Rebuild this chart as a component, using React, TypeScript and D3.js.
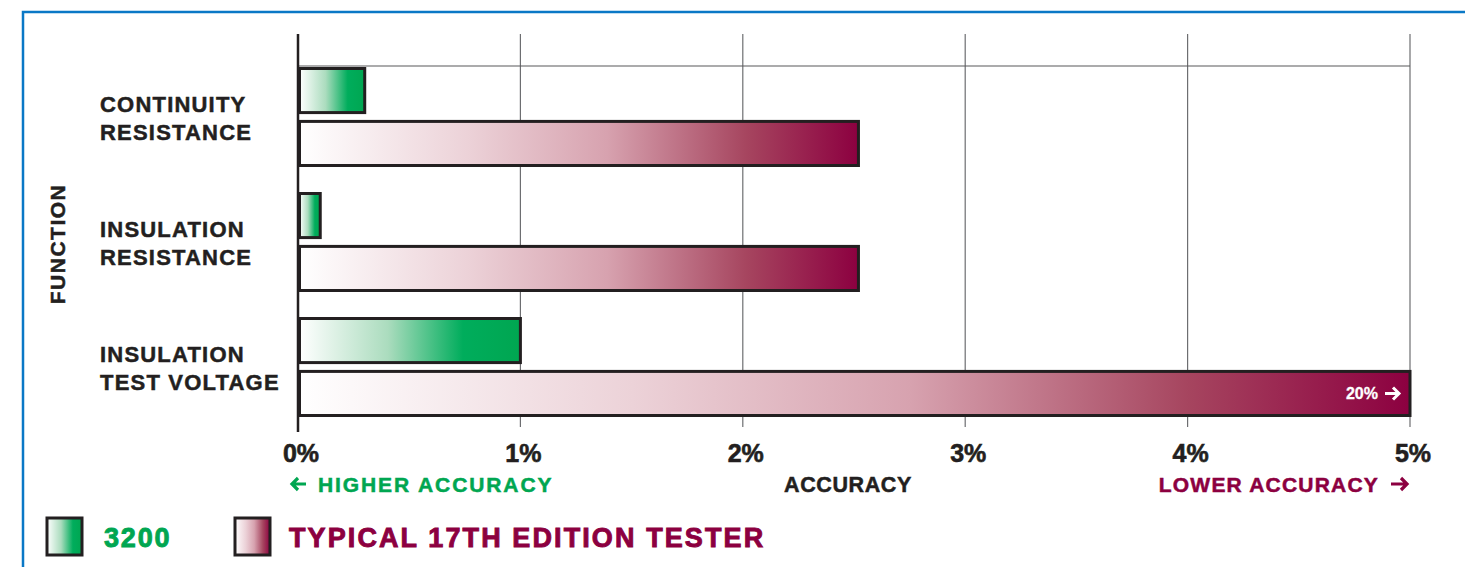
import React from 'react';
import * as d3 from 'd3';

// Chart data
const categories: string[][] = [
  ['CONTINUITY', 'RESISTANCE'],
  ['INSULATION', 'RESISTANCE'],
  ['INSULATION', 'TEST VOLTAGE'],
];
const series3200: number[] = [0.3, 0.1, 1];
const seriesTypical: number[] = [2.52, 2.52, 20];
const tickValues: number[] = [0, 1, 2, 3, 4, 5];
const seriesNames: string[] = ['3200', 'TYPICAL 17TH EDITION TESTER'];

const GREEN = '#00a651';
const MAROON = '#8c0040';
const INK = '#231f20';
const FONT = '"Liberation Sans", Arial, Helvetica, sans-serif';

// bold arrow glyph drawn as a path, pointing right, tip at (0,0)
const arrowPath = (len: number, h: number) =>
  `M${-len},0 L-2,0 M${-h - 1},${-h} L-1,0 L${-h - 1},${h}`;

const App: React.FC = () => {
  const width = 1465;
  const height = 567;
  const maxX = d3.max(tickValues) || 5;

  const x = d3.scaleLinear().domain([0, maxX]).range([298, 1410]);
  const keys = categories.map((c) => c.join(' '));
  const y = d3.scaleBand<string>().domain(keys).range([67, 442]).padding(0);
  const sub = d3.scaleBand<string>().domain(['a', 'b']).range([0, 100]).paddingInner(0.11);

  const rows = keys.map((k, i) => ({
    key: k,
    lines: categories[i],
    a: series3200[i],
    b: seriesTypical[i],
  }));

  const heavy = (c: string, w = 0.6) => ({ fill: c, stroke: c, strokeWidth: w, fontWeight: 'bold' as const });

  return (
    <svg
      width={width}
      height={height}
      style={{ position: 'absolute', left: 0, top: 0, fontFamily: FONT }}
    >
      <defs>
        <linearGradient id="gGreen" x1="0" x2="1" y1="0" y2="0">
          <stop offset="0" stopColor="#ffffff" />
          <stop offset="0.4" stopColor="#abdcbe" />
          <stop offset="0.74" stopColor="#00ad5c" />
          <stop offset="1" stopColor={GREEN} />
        </linearGradient>
        <linearGradient id="gMaroon" x1="0" x2="1" y1="0" y2="0">
          <stop offset="0" stopColor="#ffffff" />
          <stop offset="0.3" stopColor="#ecd2d8" />
          <stop offset="0.55" stopColor="#d7a2af" />
          <stop offset="0.8" stopColor="#a6455f" />
          <stop offset="1" stopColor={MAROON} />
        </linearGradient>
      </defs>

      {/* blue frame */}
      <path d={`M23,${height} L23,12 L${width},12`} fill="none" stroke="#0a78c6" strokeWidth={2.5} />

      {/* gridlines */}
      {tickValues.slice(1).map((t) => (
        <line key={t} x1={x(t)} x2={x(t)} y1={34} y2={427} stroke="#6d6e71" strokeWidth={1.2} />
      ))}
      <line x1={x(0)} x2={x(maxX)} y1={66} y2={66} stroke="#58595b" strokeWidth={1.2} />

      {/* bars */}
      {rows.map((r) => {
        const y0 = y(r.key) || 0;
        const bEnd = Math.min(r.b, maxX);
        const by = y0 + (sub('b') || 0);
        return (
          <g key={r.key}>
            <rect
              x={x(0) + 1.5}
              y={y0 + (sub('a') || 0) + 1.5}
              width={x(r.a) - x(0) - 1.5}
              height={sub.bandwidth() - 3}
              fill="url(#gGreen)"
              stroke={INK}
              strokeWidth={3}
            />
            <rect
              x={x(0) + 1.5}
              y={by + 1.5}
              width={x(bEnd) - x(0) - 1.5}
              height={sub.bandwidth() - 3}
              fill="url(#gMaroon)"
              stroke={INK}
              strokeWidth={3}
            />
            {r.b > maxX && (
              <g>
                <text
                  x={x(maxX) - 32}
                  y={by + sub.bandwidth() / 2 + 6}
                  textAnchor="end"
                  {...heavy('#ffffff', 0.3)}
                  fontSize={16}
                >
                  {`${r.b}%`}
                </text>
                <path
                  transform={`translate(${x(maxX) - 10},${by + sub.bandwidth() / 2})`}
                  d={arrowPath(15, 6)}
                  fill="none"
                  stroke="#ffffff"
                  strokeWidth={3}
                />
              </g>
            )}
            {r.lines.map((ln, j) => (
              <text
                key={ln}
                x={100}
                y={y0 + 45 + j * 28}
                {...heavy(INK, 0.5)}
                fontSize={22}
                letterSpacing={1.2}
              >
                {ln}
              </text>
            ))}
          </g>
        );
      })}

      {/* y axis line */}
      <line x1={x(0)} x2={x(0)} y1={34} y2={432} stroke={INK} strokeWidth={2.5} />

      {/* tick labels */}
      {tickValues.map((t) => (
        <text key={t} x={x(t) + 3} y={462} textAnchor="middle" {...heavy(INK, 0.6)} fontSize={25}>
          {`${t}%`}
        </text>
      ))}

      {/* axis titles */}
      <path
        transform={`translate(291,484) rotate(180)`}
        d={arrowPath(15, 6)}
        fill="none"
        stroke={GREEN}
        strokeWidth={3.2}
      />
      <text x={318} y={492} {...heavy(GREEN, 0.5)} fontSize={21} letterSpacing={1.9}>
        HIGHER ACCURACY
      </text>
      <text x={848} y={492} textAnchor="middle" {...heavy(INK, 0.5)} fontSize={21.5} letterSpacing={0.6}>
        ACCURACY
      </text>
      <text x={1379} y={492} textAnchor="end" {...heavy(MAROON, 0.5)} fontSize={21} letterSpacing={1.2}>
        LOWER ACCURACY
      </text>
      <path
        transform={`translate(1408,484)`}
        d={arrowPath(17, 6)}
        fill="none"
        stroke={MAROON}
        strokeWidth={3.2}
      />
      <text
        transform="translate(65,244) rotate(-90)"
        textAnchor="middle"
        {...heavy(INK, 0.5)}
        fontSize={21}
        letterSpacing={1.5}
      >
        FUNCTION
      </text>

      {/* legend */}
      <rect x={47} y={518} width={35} height={37} fill="url(#gGreen)" stroke={INK} strokeWidth={3} />
      <text x={104} y={547} {...heavy(GREEN, 0.9)} fontSize={27} letterSpacing={1.8}>
        {seriesNames[0]}
      </text>
      <rect x={235} y={518} width={35} height={37} fill="url(#gMaroon)" stroke={INK} strokeWidth={3} />
      <text x={289} y={547} {...heavy(MAROON, 0.9)} fontSize={27} letterSpacing={2.1}>
        {seriesNames[1]}
      </text>
    </svg>
  );
};

export default App;
